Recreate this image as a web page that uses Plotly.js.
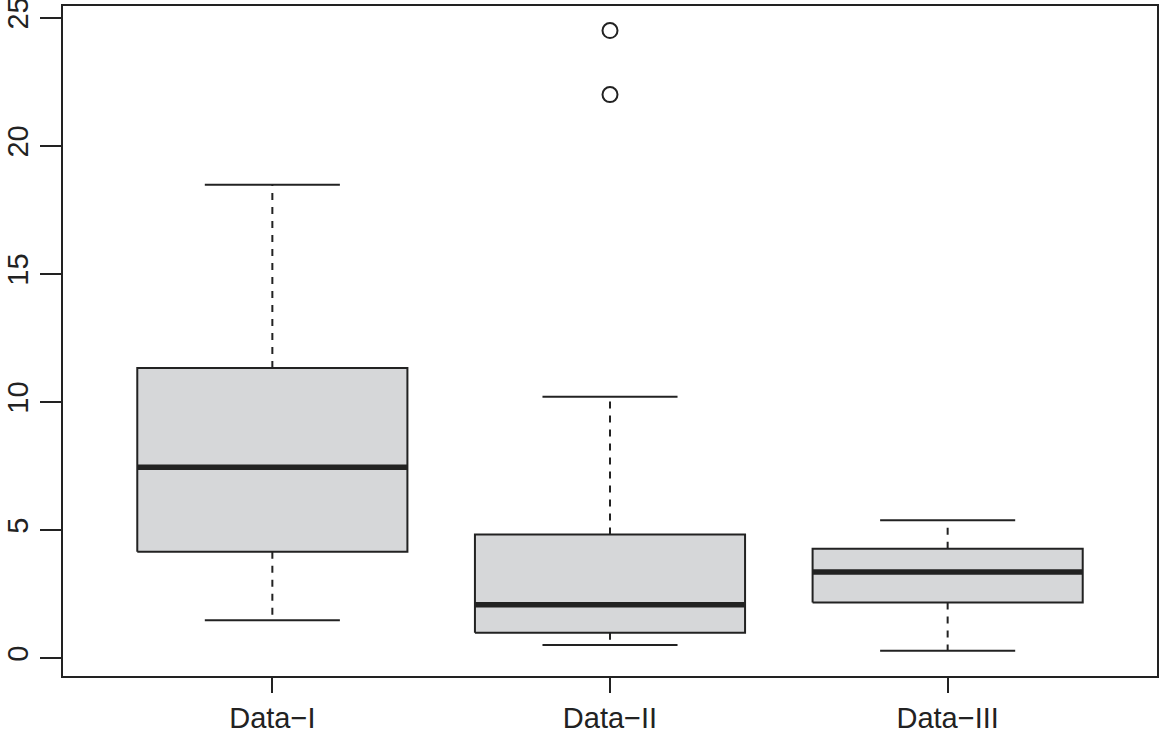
<!DOCTYPE html>
<html>
<head>
<meta charset="utf-8">
<script src="https://cdn.plot.ly/plotly-3.0.1.min.js"></script>
<style>html,body{margin:0;padding:0;background:#fff;}#chart{width:1161px;height:737px;}</style>
</head>
<body>
<div id="chart"></div>
<script>
// ---- data ----
const categories = ["Data\u2212I", "Data\u2212II", "Data\u2212III"];
const lowerWhisker = [1.48, 0.51, 0.29];
const q1Values     = [4.15, 0.99, 2.17];
const medianValues = [7.45, 2.08, 3.36];
const q3Values     = [11.33, 4.82, 4.27];
const upperWhisker = [18.48, 10.2, 5.38];
const outlierGroup = [2, 2];
const outlierValues = [22.0, 24.5];
const yTickValues = [0, 5, 10, 15, 20, 25];

// ---- style ----
const LINE = "#222222";
const FILL = "#d6d7d9";
const BOX_HALF = 0.4;
const CAP_HALF = 0.2;
const FONT = {family: "Liberation Sans, Arial, Helvetica, sans-serif", size: 29, color: "#222"};

const traces = [];
categories.forEach((c, i) => {
  const x = i + 1;
  // dashed whiskers
  traces.push({x: [x, x], y: [q3Values[i], upperWhisker[i]], mode: "lines", type: "scatter",
    line: {color: LINE, width: 2, dash: "7px,7px"}, hoverinfo: "skip", showlegend: false});
  traces.push({x: [x, x], y: [q1Values[i], lowerWhisker[i]], mode: "lines", type: "scatter",
    line: {color: LINE, width: 2, dash: "7px,7px"}, hoverinfo: "skip", showlegend: false});
  // caps
  traces.push({x: [x - CAP_HALF, x + CAP_HALF], y: [upperWhisker[i], upperWhisker[i]], mode: "lines", type: "scatter",
    line: {color: LINE, width: 2}, hoverinfo: "skip", showlegend: false});
  traces.push({x: [x - CAP_HALF, x + CAP_HALF], y: [lowerWhisker[i], lowerWhisker[i]], mode: "lines", type: "scatter",
    line: {color: LINE, width: 2}, hoverinfo: "skip", showlegend: false});
  // box
  traces.push({x: [x - BOX_HALF, x + BOX_HALF, x + BOX_HALF, x - BOX_HALF, x - BOX_HALF],
    y: [q1Values[i], q1Values[i], q3Values[i], q3Values[i], q1Values[i]],
    mode: "lines", type: "scatter", fill: "toself", fillcolor: FILL,
    line: {color: LINE, width: 2}, name: c, showlegend: false});
  // median
  traces.push({x: [x - BOX_HALF, x + BOX_HALF], y: [medianValues[i], medianValues[i]], mode: "lines", type: "scatter",
    line: {color: LINE, width: 5.5}, hoverinfo: "skip", showlegend: false});
});
// outliers
traces.push({x: outlierGroup, y: outlierValues, mode: "markers", type: "scatter",
  marker: {symbol: "circle-open", size: 15, color: LINE, line: {width: 2, color: LINE}},
  showlegend: false});

const layout = {
  width: 1161, height: 737,
  margin: {l: 63, r: 4, t: 6, b: 61, pad: 0},
  paper_bgcolor: "#fff", plot_bgcolor: "#fff",
  font: FONT,
  showlegend: false,
  xaxis: {range: [0.38, 3.62], tickvals: [1, 2, 3], ticktext: categories,
    ticks: "outside", ticklen: 15, tickwidth: 2, tickcolor: LINE,
    showline: true, mirror: true, linecolor: LINE, linewidth: 2,
    showgrid: false, zeroline: false, tickfont: FONT, ticklabelstandoff: 0,
    ticklabeloverflow: "allow", automargin: false},
  yaxis: {range: [-0.70, 25.46], tickvals: yTickValues, ticktext: yTickValues.map(String),
    ticks: "outside", ticklen: 21, tickwidth: 2, tickcolor: LINE, tickangle: -90,
    showline: true, mirror: true, linecolor: LINE, linewidth: 2,
    showgrid: false, zeroline: false, tickfont: FONT, ticklabelstandoff: 0,
    ticklabeloverflow: "allow", automargin: false}
};

Plotly.newPlot("chart", traces, layout, {staticPlot: true, displayModeBar: false});
</script>
</body>
</html>
